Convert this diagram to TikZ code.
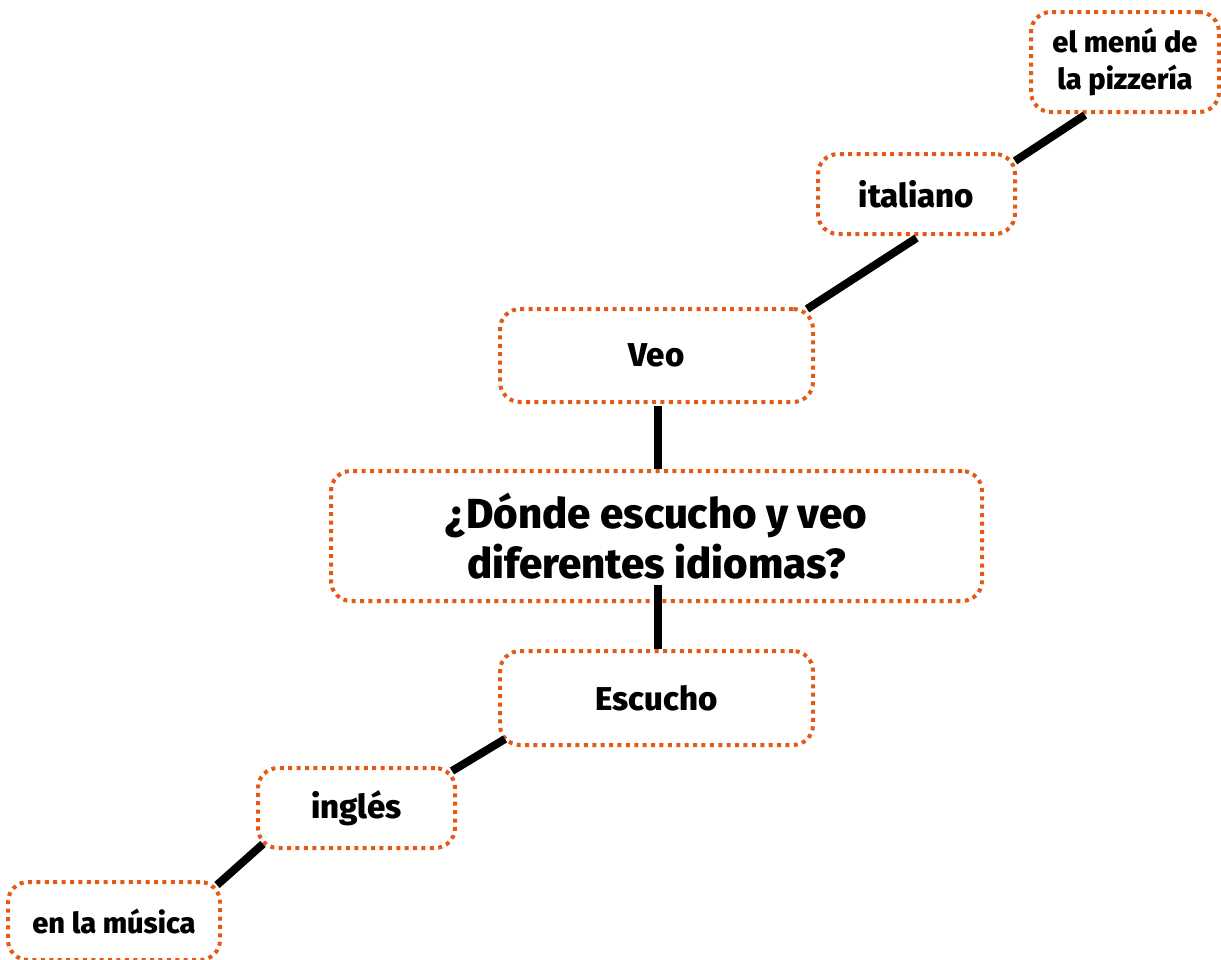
\documentclass[tikz,border=0pt]{standalone}
\usepackage{fontspec}
\setmainfont{Fira Sans}[BoldFont={Fira Sans ExtraBold}]
\usetikzlibrary{calc}
\definecolor{dotorange}{RGB}{226,90,22}
\tikzset{
  box/.style={draw=dotorange, line width=4pt, dash pattern=on 4pt off 4.4pt,
    rounded corners=20pt, align=center, inner sep=0pt, font=\bfseries},
  link/.style={draw=black, line width=8pt},
}
\begin{document}
\begin{tikzpicture}[x=1pt,y=-1pt]
\useasboundingbox (0,0) rectangle (1221,959);
\node[box, minimum width=188pt, minimum height=100pt, font=\bfseries\fontsize{29}{37}\selectfont] (menu) at (1125,62) {el menú de\\la pizzería};
\node[box, minimum width=197pt, minimum height=80pt, font=\bfseries\fontsize{33}{38}\selectfont] (ital) at (916.5,194) {italiano};
\node[box, minimum width=313pt, minimum height=93pt, font=\bfseries\fontsize{33}{38}\selectfont] (veo) at (656.5,355.5) {Veo};
\node[box, minimum width=651pt, minimum height=130pt, font=\bfseries\fontsize{42}{50}\selectfont] (main) at (656.5,536) {¿Dónde escucho y veo\\diferentes idiomas?};
\node[box, minimum width=313pt, minimum height=94pt, font=\bfseries\fontsize{33}{38}\selectfont] (esc) at (656.5,698) {Escucho};
\node[box, minimum width=197pt, minimum height=80pt, font=\bfseries\fontsize{33}{38}\selectfont] (ing) at (356.5,808) {inglés};
\node[box, minimum width=212pt, minimum height=78pt, font=\bfseries\fontsize{29}{34}\selectfont] (mus) at (114,921) {en la música};
\draw[link] ([xshift=-40pt,yshift=-1pt]menu.south) -- ([xshift=-2pt,yshift=-9pt]ital.north east);
\draw[link] ([yshift=-2pt]ital.south) -- ([xshift=-8pt,yshift=-2pt]veo.north east);
\draw[link] ([xshift=1.5pt,yshift=-2pt]veo.south) -- ([xshift=1.5pt]main.north);
\draw[link] ([xshift=1.5pt,yshift=18pt]main.south) -- ([xshift=1.5pt]esc.north);
\draw[link] ([xshift=7pt,yshift=8pt]esc.south west) -- ([xshift=-5pt,yshift=-5pt]ing.north east);
\draw[link] ([xshift=7pt,yshift=6pt]ing.south west) -- ([xshift=-5pt,yshift=-5pt]mus.north east);
\end{tikzpicture}
\end{document}
